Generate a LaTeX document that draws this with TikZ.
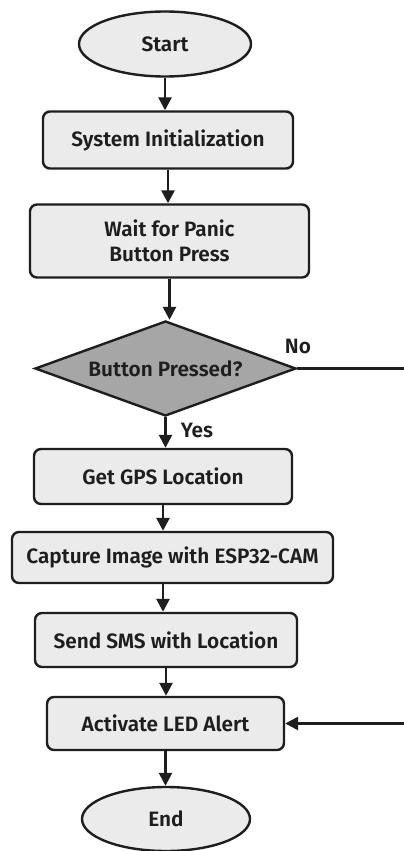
\documentclass[tikz,border=0pt]{standalone}
\usepackage{fontspec}
\setmainfont{Fira Sans}[BoldFont={Fira Sans SemiBold}]
\usetikzlibrary{shapes.geometric,arrows.meta}
\definecolor{boxfill}{HTML}{EBEBEB}
\definecolor{decfill}{HTML}{A6A6A6}
\definecolor{edge}{HTML}{1E1E1E}
\tikzset{
  base/.style={draw=edge, line width=2.4pt, font=\fontsize{20.8}{25}\selectfont\bfseries, text=edge, inner sep=0pt, align=center},
  procbox/.style={base, rectangle, rounded corners=7pt, fill=boxfill},
  termbox/.style={base, ellipse, fill=boxfill},
  decbox/.style={base, diamond, fill=decfill, aspect=2.75},
  flow/.style={draw=edge, line width=2.6pt, -{Triangle[length=13pt,width=13pt]}},
  plainline/.style={draw=edge, line width=2.6pt},
  lbl/.style={font=\fontsize{20.8}{25}\selectfont\bfseries, text=edge, inner sep=0pt}
}
\begin{document}
\begin{tikzpicture}[x=1pt,y=-1pt]
\useasboundingbox[fill=white] (0,0) rectangle (404,851);
\node[termbox, minimum width=172pt, minimum height=65pt] (start) at (165,44) {Start};
\node[procbox, minimum width=250pt, minimum height=57pt] (init) at (168,140) {System Initialization};
\node[procbox, minimum width=279pt, minimum height=73pt] (wait) at (169.5,241) {Wait for Panic\\Button Press};
\node[decbox, minimum width=261pt, minimum height=95pt] (dec) at (165.5,368.5) {Button Pressed?};
\node[procbox, minimum width=258pt, minimum height=55pt] (gps) at (163,476.5) {Get GPS Location};
\node[procbox, minimum width=321pt, minimum height=51pt] (cap) at (172.5,557.5) {Capture Image with ESP32-CAM};
\node[procbox, minimum width=262pt, minimum height=54pt] (sms) at (166,640) {Send SMS with Location};
\node[procbox, minimum width=237pt, minimum height=53pt] (led) at (165.5,723.5) {Activate LED Alert};
\node[termbox, minimum width=168pt, minimum height=64pt] (end) at (166,819) {End};
\coordinate (noend) at (404,368.5);
\coordinate (ledin) at (404,723.5);
\draw[flow] (start.south) -- (start.south |- init.north);
\draw[flow] (init.south) -- (init.south |- wait.north);
\draw[flow] (wait.south) -- (wait.south |- dec.north);
\draw[flow] (dec.south) -- (dec.south |- gps.north);
\draw[flow] (gps.south) -- (gps.south |- cap.north);
\draw[flow] (cap.south -| gps.south) -- (gps.south |- sms.north);
\draw[flow] (sms.south) -- (sms.south |- led.north);
\draw[flow] (led.south) -- (led.south |- end.north);
\draw[plainline] (dec.east) -- (noend);
\draw[flow] (ledin) -- (led.east);
\node[lbl] (nolbl) at (298,346) {No};
\node[lbl] (yeslbl) at (197,430) {Yes};
\end{tikzpicture}
\end{document}
